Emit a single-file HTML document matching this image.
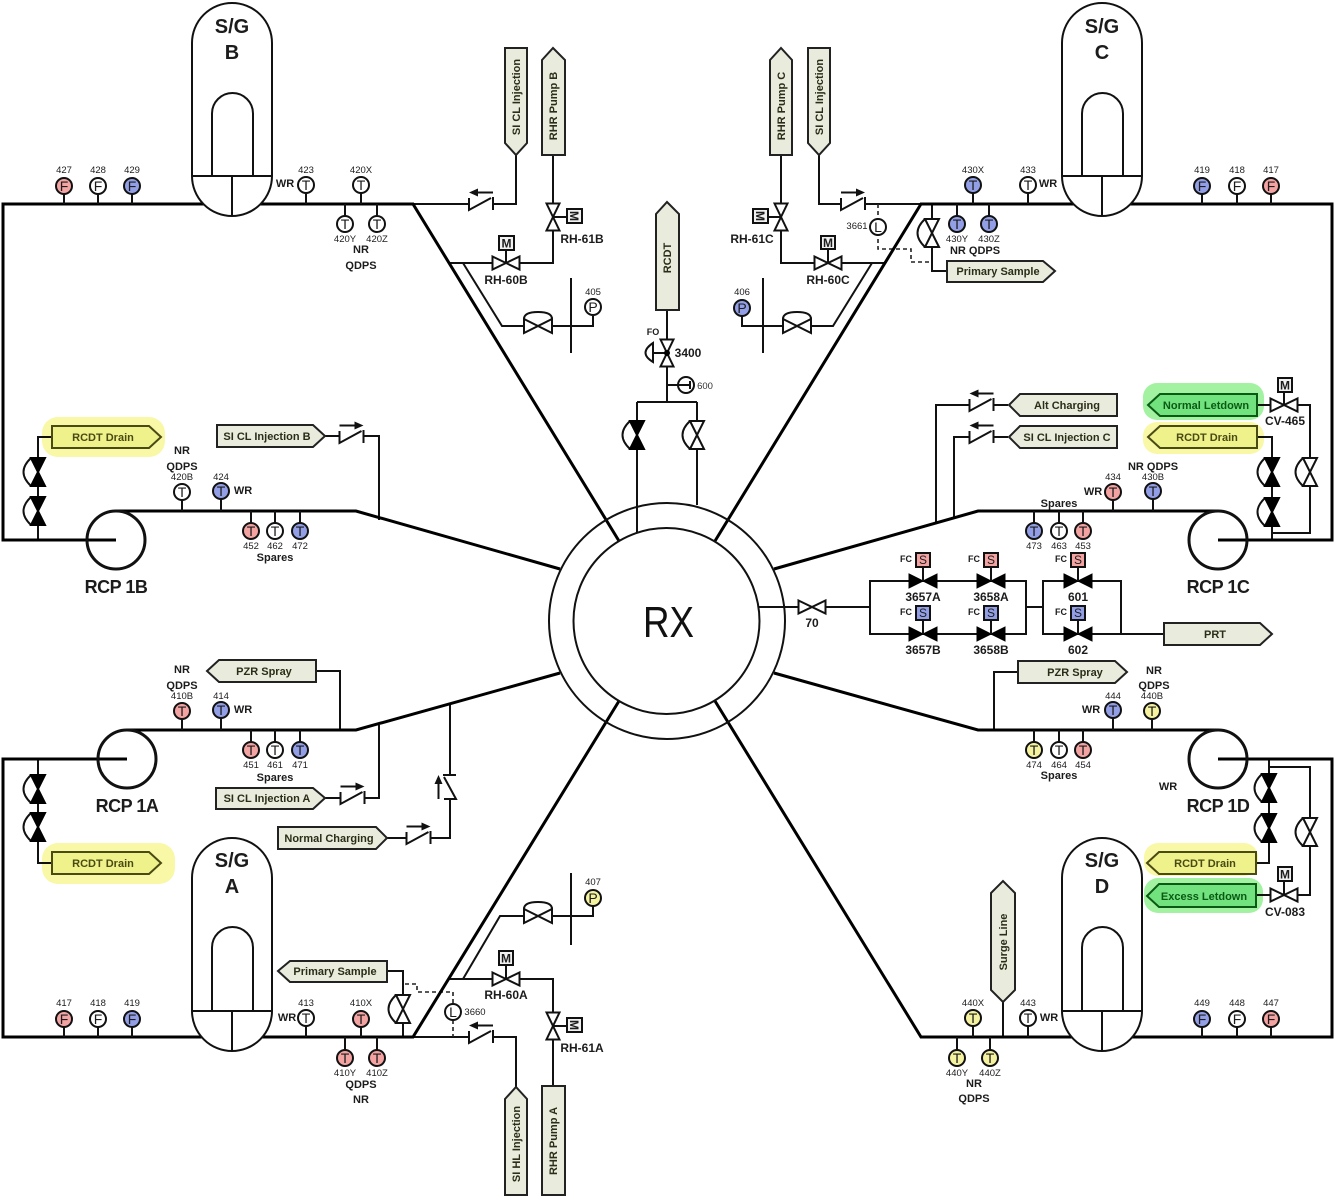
<!DOCTYPE html>
<html><head><meta charset="utf-8"><style>
html,body{margin:0;padding:0;background:#fff}
svg{display:block}
text{font-family:"Liberation Sans",sans-serif;fill:#1c1c1c;text-anchor:middle}
.b{font-weight:bold;font-size:12px}
.l{font-weight:bold;font-size:11px}
.n{font-size:9.5px;fill:#333}
.t{font-weight:bold;font-size:11px;fill:#2b2d18}
.ty{fill:#4a4a14}
.tg{fill:#0a5a14}
.h{font-weight:bold;font-size:20px}
.r{font-weight:bold;font-size:18px;letter-spacing:-.5px}
.i{font-size:14px;fill:#111}
.k{font-size:9px;font-weight:bold}
.p{fill:none;stroke:#111;stroke-width:2}
.m{fill:none;stroke:#000;stroke-width:3}
.d{fill:none;stroke:#222;stroke-width:1.6;stroke-dasharray:4 3}
circle.c{stroke:#111;stroke-width:2;fill:#fff;r:8}
.pk{fill:#f4a3a3!important}.bl{fill:#929fe6!important}.ye{fill:#f5f3a0!important}
.tag{fill:#e9ecdc;stroke:#222;stroke-width:2}
.tagy{fill:#eff18a;stroke:#4a4a14;stroke-width:2}
.tagg{fill:#72e27e;stroke:#0a5a14;stroke-width:2}
</style></head><body>
<svg width="1334" height="1197" viewBox="0 0 1334 1197" xmlns="http://www.w3.org/2000/svg">
<defs>
<g id="vh"><path d="M-13.5,-6.5L13.5,6.5V-6.5L-13.5,6.5Z" fill="#fff" stroke="#111" stroke-width="2"/></g>
<g id="vhf"><path d="M-14,-7L14,7V-7L-14,7Z" fill="#000" stroke="#000" stroke-width="1"/></g>
<g id="vv"><path d="M-6.5,-13.5L6.5,13.5H-6.5L6.5,-13.5Z" fill="#fff" stroke="#111" stroke-width="2"/></g>
<g id="vvo"><path d="M-7,-14Q-22,0 -7,14" fill="#fff" stroke="#111" stroke-width="2"/><path d="M-7,-14L7,14H-7L7,-14Z" fill="#fff" stroke="#111" stroke-width="2"/></g>
<g id="vvf"><path d="M-7,-14Q-22,0 -7,14" fill="#fff" stroke="#111" stroke-width="2"/><path d="M-7,-14L7,14H-7L7,-14Z" fill="#000" stroke="#000" stroke-width="2"/></g>
<g id="vd"><path d="M-14,-7C-14,-12 -8,-14 0,-14C8,-14 14,-12 14,-7" fill="#fff" stroke="#111" stroke-width="2"/><path d="M-14,-7L14,7V-7L-14,7Z" fill="#fff" stroke="#111" stroke-width="2"/></g>
<g id="ck"><rect x="-12" y="-6" width="24" height="12" fill="#fff"/><path d="M-12,-6V6L10,-6M12,-7V6" fill="none" stroke="#111" stroke-width="2"/></g>
<g id="cr"><use href="#ck"/><path d="M-12,-11.500H4" stroke="#111" stroke-width="2"/><path d="M3,-15.500L12,-11.500L3,-7.500Z" fill="#111"/></g>
<g id="cl"><use href="#ck"/><path d="M12,-11.500H-4" stroke="#111" stroke-width="2"/><path d="M-3,-15.500L-12,-11.500L-3,-7.500Z" fill="#111"/></g>
<path id="sgb" d="M-40,176V43A40,40 0 0 1 40,43V176A40,40 0 0 1 -40,176Z"/>
</defs>

<!-- highlights -->
<rect x="42" y="417" width="123" height="40" rx="16" fill="#f8f8a6"/>
<rect x="42" y="843" width="133" height="41" rx="16" fill="#f8f8a6"/>
<rect x="1143" y="422" width="121" height="32" rx="14" fill="#f8f8a6"/>
<rect x="1143" y="383" width="121" height="37" rx="14" fill="#a2f2a2"/>
<rect x="1144" y="843" width="114" height="33" rx="14" fill="#f8f8a6"/>
<rect x="1144" y="878" width="119" height="35" rx="14" fill="#a2f2a2"/>

<!-- thin pipes -->
<path class="p" d="M413,204H516V155M553,155V263H448M463,263L502,326H593V316M571,278V353
M819,155V204H921M781,155V263H885M872,263L833,326H742V316M763,278V353
M932,204V271H947
M667,310V402M637,402H697M637,402V533M697,402V505M667,385H678
M325,436H379V520M52,437H38V540M316,671H340V730M325,798H379V725M387,838H450V705M52,863H38V759
M1257,405H1310V533H1272M1257,437H1272V540M1008,405H936V522M1008,437H954V517M1018,672H994V730
M1256,863H1269V759M1256,895H1310V767H1269
M413,1037H516V1087M553,1086V979H448M463,979L500,916H593V906M571,873V945
M387,971H403V1037
M760,607H870M870,581H1026V634H870ZM1026,607H1043M1043,581H1121V634H1043ZM1121,634H1164
M1003,1002V1037"/>
<path class="d" d="M878,204V249H911V262H932M405,984H417V992H453V1037"/>

<!-- main loops -->
<path class="m" d="M619,541L413,204H3V540H116M116,511H356L560,569"/>
<path class="m" d="M715,541L921,204H1332V540H1218M1218,511H978L774,569"/>
<path class="m" d="M619,701L413,1037H3V759H127M127,730H356L560,673"/>
<path class="m" d="M715,701L921,1037H1332V759H1218M1218,730H978L774,673"/>

<!-- S/G -->
<g fill="#fff" stroke="#111" stroke-width="2">
<use href="#sgb" x="232" y="0"/><use href="#sgb" x="1102" y="0"/>
<use href="#sgb" x="232" y="835"/><use href="#sgb" x="1102" y="835"/>
</g>
<path class="p" d="M192,176H272M232,176V216M212,176V113.500A20.500,20.500 0 0 1 253,113.500V176
M1062,176H1142M1102,176V216M1082,176V113.500A20.500,20.500 0 0 1 1123,113.500V176
M192,1011H272M232,1011V1051M212,1011V947.500A20.500,20.500 0 0 1 253,947.500V1011
M1062,1011H1142M1102,1011V1051M1082,1011V947.500A20.500,20.500 0 0 1 1123,947.500V1011"/>

<!-- RCP -->
<g fill="none" stroke="#111" stroke-width="3">
<circle cx="116" cy="540" r="29"/><circle cx="1218" cy="540" r="29"/>
<circle cx="127" cy="759" r="29"/><circle cx="1218" cy="759" r="29"/>
</g>

<!-- RX -->
<circle cx="667" cy="621" r="118" fill="none" stroke="#111" stroke-width="2"/>
<circle cx="666.500" cy="621" r="93" fill="#fff" stroke="#111" stroke-width="2"/>
<path class="p" d="M759,607H790"/>
<text x="668.500" y="637" font-size="44" textLength="51" lengthAdjust="spacingAndGlyphs" style="fill:#111">RX</text>

<!-- S/G labels -->
<text class="h" x="232" y="33">S/G</text><text class="h" x="232" y="59">B</text>
<text class="h" x="1102" y="33">S/G</text><text class="h" x="1102" y="59">C</text>
<text class="h" x="232" y="867">S/G</text><text class="h" x="232" y="893">A</text>
<text class="h" x="1102" y="867">S/G</text><text class="h" x="1102" y="893">D</text>
<text class="r" x="116" y="593">RCP 1B</text><text class="r" x="1218" y="593">RCP 1C</text>
<text class="r" x="127" y="812">RCP 1A</text><text class="r" x="1218" y="812">RCP 1D</text>

<!-- Tags -->
<polygon class="tag" points="505,48 527,48 527,143 516,155 505,143"/>
<polygon class="tag" points="542,60 553,48 565,60 565,155 542,155"/>
<polygon class="tag" points="770,60 781,48 792,60 792,155 770,155"/>
<polygon class="tag" points="808,48 830,48 830,143 819,155 808,143"/>
<polygon class="tag" points="656,214 667,202 679,214 679,310 656,310"/>
<polygon class="tag" points="505,1099 516,1087 527,1099 527,1195 505,1195"/>
<polygon class="tag" points="542,1086 565,1086 565,1195 542,1195"/>
<polygon class="tag" points="991,893 1003,881 1015,893 1015,990 1003,1002 991,990"/>
<text class="t" transform="translate(520,97) rotate(-90)">SI CL Injection</text>
<text class="t" transform="translate(557,106) rotate(-90)">RHR Pump B</text>
<text class="t" transform="translate(785,106) rotate(-90)">RHR Pump C</text>
<text class="t" transform="translate(823,97) rotate(-90)">SI CL Injection</text>
<text class="t" transform="translate(671,258) rotate(-90)">RCDT</text>
<text class="t" transform="translate(520,1144) rotate(-90)">SI HL Injection</text>
<text class="t" transform="translate(557,1141) rotate(-90)">RHR Pump A</text>
<text class="t" transform="translate(1007,942) rotate(-90)">Surge Line</text>

<polygon class="tag" points="217,425 313,425 325,436 313,447 217,447"/><text class="t" x="267" y="440">SI CL Injection B</text>
<polygon class="tag" points="207,671 219,660 316,660 316,682 219,682"/><text class="t" x="264" y="675">PZR Spray</text>
<polygon class="tag" points="216,788 313,788 325,798 313,809 216,809"/><text class="t" x="267" y="802">SI CL Injection A</text>
<polygon class="tag" points="278,827 376,827 387,838 376,849 278,849"/><text class="t" x="329" y="842">Normal Charging</text>
<polygon class="tag" points="278,971 290,961 387,961 387,982 290,982"/><text class="t" x="335" y="975">Primary Sample</text>
<polygon class="tag" points="947,261 1043,261 1055,271 1043,282 947,282"/><text class="t" x="998" y="275">Primary Sample</text>
<polygon class="tag" points="1009,405 1020,394 1117,394 1117,416 1020,416"/><text class="t" x="1067" y="409">Alt Charging</text>
<polygon class="tag" points="1009,437 1020,426 1117,426 1117,448 1020,448"/><text class="t" x="1067" y="441">SI CL Injection C</text>
<polygon class="tag" points="1018,661 1115,661 1127,672 1115,683 1018,683"/><text class="t" x="1075" y="676">PZR Spray</text>
<polygon class="tag" points="1164,623 1260,623 1272,634 1260,645 1164,645"/><text class="t" x="1215" y="638">PRT</text>

<polygon class="tagy" points="52,426 149,426 161,437 149,448 52,448"/><text class="t ty" x="103" y="441">RCDT Drain</text>
<polygon class="tagy" points="52,852 149,852 161,863 149,874 52,874"/><text class="t ty" x="103" y="867">RCDT Drain</text>
<polygon class="tagy" points="1148,437 1160,426 1257,426 1257,448 1160,448"/><text class="t ty" x="1207" y="441">RCDT Drain</text>
<polygon class="tagy" points="1147,863 1159,852 1256,852 1256,874 1159,874"/><text class="t ty" x="1205" y="867">RCDT Drain</text>
<polygon class="tagg" points="1148,405 1160,394 1257,394 1257,416 1160,416"/><text class="t tg" x="1206" y="409">Normal Letdown</text>
<polygon class="tagg" points="1147,896 1159,884 1256,884 1256,907 1159,907"/><text class="t tg" x="1204" y="900">Excess Letdown</text>

<!-- Valves -->
<use href="#vv" x="553" y="217"/><use href="#vh" x="506" y="263"/>
<use href="#vv" x="781" y="217"/><use href="#vh" x="828" y="263"/>
<use href="#vv" x="553" y="1026"/><use href="#vh" x="506" y="979"/>
<use href="#vh" x="812" y="607"/><use href="#vh" x="1284" y="405"/><use href="#vh" x="1284" y="895"/>
<use href="#vd" x="538" y="326"/><use href="#vd" x="797" y="326"/><use href="#vd" x="538" y="916"/>
<use href="#vvo" x="932" y="233"/><use href="#vvo" x="403" y="1009"/>
<use href="#vv" x="667" y="353"/>
<use href="#vvf" x="637" y="435"/><use href="#vvo" x="697" y="435"/>
<use href="#vvf" x="38" y="472"/><use href="#vvf" x="38" y="511"/>
<use href="#vvf" x="38" y="789"/><use href="#vvf" x="38" y="827"/>
<use href="#vvf" x="1272" y="472"/><use href="#vvf" x="1272" y="512"/>
<use href="#vvo" x="1310" y="472"/>
<use href="#vvf" x="1269" y="788"/><use href="#vvf" x="1269" y="828"/>
<use href="#vvo" x="1310" y="832"/>
<use href="#vhf" x="923" y="581"/><use href="#vhf" x="991" y="581"/>
<use href="#vhf" x="923" y="634"/><use href="#vhf" x="991" y="634"/>
<use href="#vhf" x="1078" y="581"/><use href="#vhf" x="1078" y="634"/>

<!-- 3400 actuator -->
<path class="p" d="M653,353H667"/>
<path d="M653,343Q638,353 653,362Z" fill="#fff" stroke="#111" stroke-width="2"/>
<circle cx="667" cy="353" r="3" fill="#000"/>
<text class="k" x="653" y="335">FO</text>
<text class="b" x="688" y="357">3400</text>
<!-- 600 sensor -->
<circle class="c" cx="686" cy="385"/>
<path class="p" d="M678,385H690M690,381V389"/>
<text class="n" x="705" y="389">600</text>

<!-- Checks -->
<use href="#cl" x="481" y="204"/><use href="#cr" x="853" y="204"/>
<use href="#cr" x="351.500" y="437"/><use href="#cr" x="352.500" y="798"/>
<use href="#cr" x="418.500" y="838"/><use href="#cr" transform="translate(450,787) rotate(-90)"/>
<use href="#cl" x="981.500" y="405"/><use href="#cl" x="981.500" y="437"/>
<use href="#cl" x="481" y="1037"/>

<!-- Motor operators -->
<g fill="#f1f1f1" stroke="#111" stroke-width="2">
<path d="M553,217H567M781,217H768M506,263V250M828,263V249M553,1026H567M506,979V965M1284,405V392M1284,895V881" fill="none"/>
<rect x="567" y="209" width="15" height="14"/><rect x="753" y="209" width="15" height="14"/>
<rect x="499" y="236" width="15" height="14"/><rect x="821" y="236" width="14" height="13"/>
<rect x="567" y="1018" width="15" height="14"/><rect x="499" y="951" width="14" height="14"/>
<rect x="1278" y="378" width="14" height="14"/><rect x="1278" y="867" width="14" height="14"/>
</g>
<g font-weight="bold" font-size="12">
<text transform="translate(570,216) rotate(90)">M</text><text transform="translate(756,216) rotate(90)">M</text>
<text x="506.500" y="247.500">M</text><text x="828" y="247">M</text>
<text transform="translate(570,1025) rotate(90)">M</text><text x="506" y="962.500">M</text>
<text x="1285" y="389.500">M</text><text x="1285" y="878.500">M</text>
</g>

<!-- Solenoids -->
<path class="p" d="M923,567V581M991,567V581M1078,567V581M923,620V634M991,620V634M1078,620V634"/>
<g stroke="#111" stroke-width="2">
<rect x="916" y="553" width="14" height="14" fill="#f4a3a3"/><rect x="984" y="553" width="14" height="14" fill="#f4a3a3"/><rect x="1071" y="553" width="14" height="14" fill="#f4a3a3"/>
<rect x="916" y="606" width="14" height="14" fill="#929fe6"/><rect x="984" y="606" width="14" height="14" fill="#929fe6"/><rect x="1071" y="606" width="14" height="14" fill="#929fe6"/>
</g>
<g font-size="12">
<text x="923" y="564">S</text><text x="991" y="564">S</text><text x="1078" y="564">S</text>
<text x="923" y="617">S</text><text x="991" y="617">S</text><text x="1078" y="617">S</text>
</g>
<g class="k">
<text x="906" y="562">FC</text><text x="974" y="562">FC</text><text x="1061" y="562">FC</text>
<text x="906" y="615">FC</text><text x="974" y="615">FC</text><text x="1061" y="615">FC</text>
</g>

<!-- Valve labels -->
<g class="b">
<text x="506" y="284">RH-60B</text><text x="582" y="243">RH-61B</text>
<text x="752" y="243">RH-61C</text><text x="828" y="284">RH-60C</text>
<text x="506" y="999">RH-60A</text><text x="582" y="1052">RH-61A</text>
<text x="1285" y="425">CV-465</text><text x="1285" y="916">CV-083</text>
<text x="812" y="627">70</text>
<text x="923" y="601">3657A</text><text x="991" y="601">3658A</text><text x="1078" y="601">601</text>
<text x="923" y="654">3657B</text><text x="991" y="654">3658B</text><text x="1078" y="654">602</text>
</g>

<!-- Instrument stems -->
<path class="p" d="M64,186V204M98,186V204M132,186V204M306,185V204M361,185V204M345,224V204M377,224V204
M973,185V204M1028,185V204M957,224V204M989,224V204M1202,186V204M1237,186V204M1271,186V204
M182,492V511M221,491V511M251,531V511M275,531V511M300,531V511
M1113,491V511M1153,491V511M1034,531V511M1059,531V511M1083,531V511
M182,711V730M221,710V730M251,750V730M275,750V730M300,750V730
M1113,710V730M1152,711V730M1034,750V730M1059,750V730M1083,750V730
M64,1019V1037M98,1019V1037M132,1019V1037M306,1018V1037M361,1019V1037M345,1058V1037M377,1058V1037
M973,1018V1037M1028,1018V1037M957,1058V1037M990,1058V1037M1202,1019V1037M1237,1019V1037M1271,1019V1037"/>

<!-- Instruments -->
<circle class="c pk" cx="64" cy="186"/><circle class="c" cx="98" cy="186"/><circle class="c bl" cx="132" cy="186"/>
<circle class="c" cx="306" cy="185"/><circle class="c" cx="361" cy="185"/><circle class="c" cx="345" cy="224"/><circle class="c" cx="377" cy="224"/>
<circle class="c" cx="593" cy="307"/><circle class="c bl" cx="742" cy="308"/><circle class="c" cx="878" cy="227"/>
<circle class="c bl" cx="973" cy="185"/><circle class="c" cx="1028" cy="185"/><circle class="c bl" cx="957" cy="224"/><circle class="c bl" cx="989" cy="224"/>
<circle class="c bl" cx="1202" cy="186"/><circle class="c" cx="1237" cy="186"/><circle class="c pk" cx="1271" cy="186"/>
<circle class="c" cx="182" cy="492"/><circle class="c bl" cx="221" cy="491"/><circle class="c pk" cx="251" cy="531"/><circle class="c" cx="275" cy="531"/><circle class="c bl" cx="300" cy="531"/>
<circle class="c pk" cx="1113" cy="492"/><circle class="c bl" cx="1153" cy="491"/><circle class="c bl" cx="1034" cy="531"/><circle class="c" cx="1059" cy="531"/><circle class="c pk" cx="1083" cy="531"/>
<circle class="c pk" cx="182" cy="711"/><circle class="c bl" cx="221" cy="710"/><circle class="c pk" cx="251" cy="750"/><circle class="c" cx="275" cy="750"/><circle class="c bl" cx="300" cy="750"/>
<circle class="c bl" cx="1113" cy="710"/><circle class="c ye" cx="1152" cy="711"/><circle class="c ye" cx="1034" cy="750"/><circle class="c" cx="1059" cy="750"/><circle class="c pk" cx="1083" cy="750"/>
<circle class="c pk" cx="64" cy="1019"/><circle class="c" cx="98" cy="1019"/><circle class="c bl" cx="132" cy="1019"/>
<circle class="c" cx="306" cy="1018"/><circle class="c pk" cx="361" cy="1019"/><circle class="c pk" cx="345" cy="1058"/><circle class="c pk" cx="377" cy="1058"/>
<circle class="c ye" cx="593" cy="898"/><circle class="c" cx="453" cy="1012"/>
<circle class="c ye" cx="973" cy="1018"/><circle class="c" cx="1028" cy="1018"/><circle class="c ye" cx="957" cy="1058"/><circle class="c ye" cx="990" cy="1058"/>
<circle class="c bl" cx="1202" cy="1019"/><circle class="c" cx="1237" cy="1019"/><circle class="c pk" cx="1271" cy="1019"/>

<g class="i">
<text x="64" y="191">F</text><text x="98" y="191">F</text><text x="132" y="191">F</text>
<text x="306" y="190">T</text><text x="361" y="190">T</text><text x="345" y="229">T</text><text x="377" y="229">T</text>
<text x="593" y="312">P</text><text x="742" y="313">P</text><text x="878" y="232">L</text>
<text x="973" y="190">T</text><text x="1028" y="190">T</text><text x="957" y="229">T</text><text x="989" y="229">T</text>
<text x="1202" y="191">F</text><text x="1237" y="191">F</text><text x="1271" y="191">F</text>
<text x="182" y="497">T</text><text x="221" y="496">T</text><text x="251" y="536">T</text><text x="275" y="536">T</text><text x="300" y="536">T</text>
<text x="1113" y="497">T</text><text x="1153" y="496">T</text><text x="1034" y="536">T</text><text x="1059" y="536">T</text><text x="1083" y="536">T</text>
<text x="182" y="716">T</text><text x="221" y="715">T</text><text x="251" y="755">T</text><text x="275" y="755">T</text><text x="300" y="755">T</text>
<text x="1113" y="715">T</text><text x="1152" y="716">T</text><text x="1034" y="755">T</text><text x="1059" y="755">T</text><text x="1083" y="755">T</text>
<text x="64" y="1024">F</text><text x="98" y="1024">F</text><text x="132" y="1024">F</text>
<text x="306" y="1023">T</text><text x="361" y="1024">T</text><text x="345" y="1063">T</text><text x="377" y="1063">T</text>
<text x="593" y="903">P</text><text x="453" y="1017">L</text>
<text x="973" y="1023">T</text><text x="1028" y="1023">T</text><text x="957" y="1063">T</text><text x="990" y="1063">T</text>
<text x="1202" y="1024">F</text><text x="1237" y="1024">F</text><text x="1271" y="1024">F</text>
</g>

<!-- Numbers -->
<g class="n" transform="translate(0,-1)">
<text x="64" y="174">427</text><text x="98" y="174">428</text><text x="132" y="174">429</text>
<text x="306" y="174">423</text><text x="361" y="174">420X</text><text x="345" y="243">420Y</text><text x="377" y="243">420Z</text>
<text x="593" y="296">405</text><text x="742" y="296">406</text><text x="857" y="230">3661</text>
<text x="973" y="174">430X</text><text x="1028" y="174">433</text><text x="957" y="243">430Y</text><text x="989" y="243">430Z</text>
<text x="1202" y="174">419</text><text x="1237" y="174">418</text><text x="1271" y="174">417</text>
<text x="182" y="481">420B</text><text x="221" y="481">424</text><text x="251" y="550">452</text><text x="275" y="550">462</text><text x="300" y="550">472</text>
<text x="1113" y="481">434</text><text x="1153" y="481">430B</text><text x="1034" y="550">473</text><text x="1059" y="550">463</text><text x="1083" y="550">453</text>
<text x="182" y="700">410B</text><text x="221" y="700">414</text><text x="251" y="769">451</text><text x="275" y="769">461</text><text x="300" y="769">471</text>
<text x="1113" y="700">444</text><text x="1152" y="700">440B</text><text x="1034" y="769">474</text><text x="1059" y="769">464</text><text x="1083" y="769">454</text>
<text x="64" y="1007">417</text><text x="98" y="1007">418</text><text x="132" y="1007">419</text>
<text x="306" y="1007">413</text><text x="361" y="1007">410X</text><text x="345" y="1077">410Y</text><text x="377" y="1077">410Z</text>
<text x="593" y="886">407</text><text x="475" y="1016">3660</text>
<text x="973" y="1007">440X</text><text x="1028" y="1007">443</text><text x="957" y="1077">440Y</text><text x="990" y="1077">440Z</text>
<text x="1202" y="1007">449</text><text x="1237" y="1007">448</text><text x="1271" y="1007">447</text>
</g>

<!-- Small bold labels -->
<g class="l" transform="translate(0,-1)">
<text x="285" y="188">WR</text><text x="361" y="254">NR</text><text x="361" y="270">QDPS</text>
<text x="1048" y="188">WR</text><text x="975" y="255">NR QDPS</text>
<text x="182" y="455">NR</text><text x="182" y="471">QDPS</text><text x="243" y="495">WR</text><text x="275" y="562">Spares</text>
<text x="1153" y="471">NR QDPS</text><text x="1093" y="496">WR</text><text x="1059" y="508">Spares</text>
<text x="182" y="674">NR</text><text x="182" y="690">QDPS</text><text x="243" y="714">WR</text><text x="275" y="782">Spares</text>
<text x="1154" y="675">NR</text><text x="1154" y="690">QDPS</text><text x="1091" y="714">WR</text><text x="1059" y="780">Spares</text>
<text x="1168" y="791">WR</text>
<text x="287" y="1022">WR</text><text x="361" y="1089">QDPS</text><text x="361" y="1104">NR</text>
<text x="1049" y="1022">WR</text><text x="974" y="1088">NR</text><text x="974" y="1103">QDPS</text>
</g>
</svg>
</body></html>
